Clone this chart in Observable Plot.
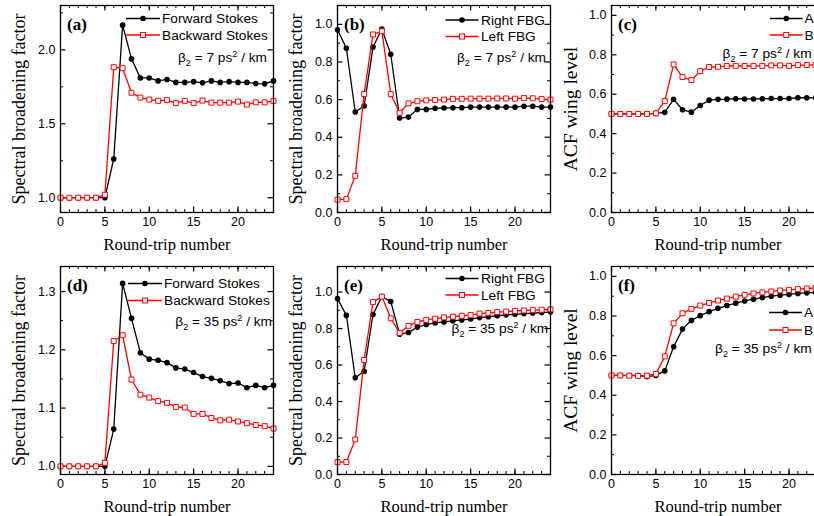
<!DOCTYPE html>
<html>
<head>
<meta charset="utf-8">
<script src="https://cdn.jsdelivr.net/npm/d3@7"></script>
<script src="https://cdn.jsdelivr.net/npm/@observablehq/plot@0.6"></script>
<style>
  html, body { margin: 0; padding: 0; background: #fff; }
  #wrap { position: relative; width: 814px; height: 516px; overflow: hidden; background: #fff; }
  #wrap svg { position: absolute; overflow: visible; }
</style>
</head>
<body>
<div id="wrap"></div>
<script>
// ---------- data ----------
const rounds = [0,1,2,3,4,5,6,7,8,9,10,11,12,13,14,15,16,17,18,19,20,21,22,23,24];
const xMajorTicks = [0, 5, 10, 15, 20];

// (a) beta2 = 7 ps^2/km, spectral broadening factor
const aForward  = [1.0,1.0,1.0,1.0,1.0,1.0,1.262,2.167,1.939,1.81,1.81,1.79,1.80,1.78,1.78,1.785,1.777,1.79,1.78,1.785,1.78,1.78,1.772,1.77,1.79];
const aBackward = [1.0,1.0,1.0,1.0,1.0,1.02,1.883,1.876,1.71,1.677,1.664,1.655,1.66,1.64,1.655,1.64,1.657,1.643,1.643,1.643,1.65,1.63,1.645,1.645,1.655];
// (b)
const bRight = [0.971,0.873,0.534,0.566,0.879,0.975,0.841,0.502,0.507,0.548,0.548,0.554,0.555,0.557,0.557,0.56,0.56,0.56,0.56,0.56,0.56,0.565,0.565,0.56,0.56];
const bLeft  = [0.068,0.071,0.195,0.63,0.946,0.963,0.629,0.53,0.58,0.591,0.596,0.598,0.6,0.604,0.604,0.605,0.605,0.605,0.606,0.606,0.605,0.608,0.607,0.603,0.6];
// (c) ACF wing level
const cA = [0.5,0.5,0.5,0.5,0.5,0.503,0.508,0.574,0.521,0.509,0.543,0.57,0.574,0.575,0.577,0.576,0.576,0.577,0.578,0.578,0.578,0.582,0.582,0.582,0.584];
const cB = [0.5,0.5,0.5,0.5,0.5,0.503,0.565,0.751,0.687,0.672,0.717,0.738,0.739,0.743,0.744,0.743,0.743,0.744,0.746,0.746,0.744,0.748,0.748,0.749,0.751];
// (d) beta2 = 35 ps^2/km
const dForward  = [1.0,1.0,1.0,1.0,1.0,1.0,1.064,1.314,1.254,1.195,1.184,1.182,1.178,1.169,1.167,1.161,1.154,1.151,1.147,1.142,1.143,1.135,1.139,1.135,1.139];
const dBackward = [1.0,1.0,1.0,1.0,1.0,1.006,1.215,1.225,1.149,1.123,1.118,1.112,1.109,1.102,1.101,1.09,1.09,1.083,1.079,1.08,1.077,1.074,1.071,1.069,1.065];
// (e)
const eRight = [0.964,0.872,0.53,0.566,0.877,0.975,0.948,0.769,0.778,0.808,0.822,0.831,0.836,0.842,0.847,0.852,0.86,0.865,0.87,0.875,0.878,0.882,0.885,0.888,0.89];
const eLeft  = [0.068,0.068,0.192,0.628,0.945,0.975,0.856,0.776,0.815,0.836,0.847,0.854,0.861,0.865,0.87,0.874,0.882,0.886,0.89,0.893,0.896,0.899,0.901,0.903,0.905];
// (f)
const fA = [0.5,0.5,0.5,0.5,0.494,0.5,0.523,0.645,0.734,0.778,0.802,0.822,0.839,0.853,0.865,0.876,0.885,0.893,0.9,0.905,0.909,0.914,0.917,0.919,0.922];
const fB = [0.5,0.5,0.499,0.498,0.499,0.508,0.596,0.763,0.814,0.836,0.853,0.866,0.878,0.888,0.898,0.907,0.914,0.919,0.924,0.929,0.932,0.936,0.939,0.941,0.942];

const sfTicks  = [1.0, 1.5, 2.0];
const sfMinor  = [1.25, 1.75, 2.25];
const fbgTicks = [0, 0.2, 0.4, 0.6, 0.8, 1.0];
const fbgMinor = [0.1, 0.3, 0.5, 0.7, 0.9];
const acfTicks = [0, 0.2, 0.4, 0.6, 0.8, 1.0];
const acfMinor = [0.1, 0.3, 0.5, 0.7, 0.9];
const sf35Ticks = [1.0, 1.1, 1.2, 1.3];
const sf35Minor = [1.05, 1.15, 1.25];

const names = {
  stokes: ["Forward Stokes", "Backward Stokes"],
  fbg: ["Right FBG", "Left FBG"],
  acf: ["A", "B"]
};

// ---------- drawing ----------
const SANS = "'Liberation Sans', Arial, sans-serif";
const SERIF = "'Liberation Serif', 'Times New Roman', serif";
const wrap = document.getElementById("wrap");

function toRows(ys) { return rounds.map((r, i) => ({x: r, y: ys[i]})); }

function panel(p) {
  const fw = p.width - p.ml - p.mr;
  const fh = p.height - p.mt - p.mb;
  const xMinor = rounds;
  const black = toRows(p.s1), red = toRows(p.s2);
  const svg = Plot.plot({
    width: p.width, height: p.height,
    marginLeft: p.ml, marginRight: p.mr, marginTop: p.mt, marginBottom: p.mb,
    x: {domain: [0, 24]},
    y: {domain: p.yDomain},
    style: {background: "transparent", fontFamily: SANS, fontSize: "12.5px", color: "black", overflow: "visible"},
    marks: [
      // inward minor / major ticks on all four sides
      Plot.tickX(xMinor, {x: d => d, insetTop: fh - 3, stroke: "black", strokeWidth: 1}),
      Plot.tickX(xMinor, {x: d => d, insetBottom: fh - 3, stroke: "black", strokeWidth: 1}),
      Plot.tickX(xMajorTicks, {x: d => d, insetTop: fh - 5.5, stroke: "black", strokeWidth: 1.2}),
      Plot.tickX(xMajorTicks, {x: d => d, insetBottom: fh - 5.5, stroke: "black", strokeWidth: 1.2}),
      Plot.tickY(p.yMinor, {y: d => d, insetRight: fw - 3, stroke: "black", strokeWidth: 1}),
      Plot.tickY(p.yMinor, {y: d => d, insetLeft: fw - 3, stroke: "black", strokeWidth: 1}),
      Plot.tickY(p.yTicks, {y: d => d, insetRight: fw - 5.5, stroke: "black", strokeWidth: 1.2}),
      Plot.tickY(p.yTicks, {y: d => d, insetLeft: fw - 5.5, stroke: "black", strokeWidth: 1.2}),
      Plot.axisX({ticks: xMajorTicks, tickSize: 0, tickPadding: 5, tickFormat: d => String(d), label: null, fontSize: 12.5, fill: "black"}),
      Plot.axisY({ticks: p.yTicks, tickSize: 0, tickPadding: 5, tickFormat: d3.format(".1f"), label: null, fontSize: 12.5, fill: "black"}),
      Plot.text(["Round-trip number"], {frameAnchor: "bottom", dy: 32, text: d => d, fontFamily: SERIF, fontSize: 16.5, fill: "black", textAnchor: "middle", lineAnchor: "middle"}),
      Plot.text([p.ylabel], {frameAnchor: "left", dx: -41, rotate: -90, text: d => d, fontFamily: SERIF, fontSize: p.ylabelSize, fill: "black", textAnchor: "middle", lineAnchor: "middle"}),
      Plot.line(black, {x: "x", y: "y", stroke: "black", strokeWidth: 1.3}),
      Plot.dot(black, {x: "x", y: "y", r: 2.8, fill: "black", stroke: "none"}),
      Plot.line(red, {x: "x", y: "y", stroke: "#ff0000", strokeWidth: 1.3}),
      Plot.dot(red, {x: "x", y: "y", r: 2.8, symbol: "square", fill: "white", stroke: "#ff0000", strokeWidth: 1}),
      Plot.text([p.tag], {frameAnchor: "top-left", dx: 6.5, dy: 19.5, text: d => d, fontFamily: SERIF, fontWeight: "bold", fontSize: 17, fill: "black", textAnchor: "start", lineAnchor: "middle"}),
      Plot.frame({stroke: "black", strokeWidth: 1.3})
    ]
  });
  svg.style.left = p.left + "px";
  svg.style.top = p.top + "px";
  wrap.appendChild(svg);

  // legend (page coordinates converted to svg coordinates)
  const g = d3.select(svg).append("g")
    .attr("font-family", SANS).attr("font-size", "13.7px").attr("text-anchor", "start");
  const L = p.legend;
  const rows = [
    {y: L.y1, color: "black", sym: "circle", label: p.names[0]},
    {y: L.y2, color: "#ff0000", sym: "square", label: p.names[1]}
  ];
  rows.forEach(r => {
    const y = r.y - p.top;
    g.append("line").attr("x1", L.lx1 - p.left).attr("x2", L.lx2 - p.left).attr("y1", y).attr("y2", y)
      .attr("stroke", r.color).attr("stroke-width", 1.3);
    const mx = (L.lx1 + L.lx2) / 2 - p.left;
    if (r.sym === "circle") {
      g.append("circle").attr("cx", mx).attr("cy", y).attr("r", 2.8).attr("fill", "black");
    } else {
      g.append("rect").attr("x", mx - 2.5).attr("y", y - 2.5).attr("width", 5).attr("height", 5)
        .attr("fill", "white").attr("stroke", "#ff0000").attr("stroke-width", 1);
    }
    g.append("text").attr("x", L.tx - p.left).attr("y", y).attr("dy", "0.35em")
      .attr("text-anchor", "start").attr("fill", "black").text(r.label);
  });
  const t = g.append("text").attr("x", L.bx - p.left).attr("y", L.by - p.top).attr("dy", "0.35em")
    .attr("text-anchor", L.banchor).attr("fill", "black");
  t.append("tspan").text("β");
  t.append("tspan").attr("font-size", "9px").attr("dy", 4).text("2");
  t.append("tspan").attr("dy", -4).text(" = " + p.beta + " ps");
  t.append("tspan").attr("font-size", "9px").attr("dy", -5).text("2");
  t.append("tspan").attr("dy", 5).text(" / km");
}

const top1 = {top: 0, height: 258, mt: 5, mb: 46};
const top2 = {top: 258, height: 258, mt: 8, mb: 42};
const col1 = {left: 0, width: 277, ml: 60, mr: 4};
const col2 = {left: 277, width: 277, ml: 60, mr: 4};
const col3 = {left: 550, width: 280, ml: 61, mr: 6};

panel({...col1, ...top1, s1: aForward, s2: aBackward, yDomain: [0.9, 2.3], yTicks: sfTicks, yMinor: sfMinor,
  ylabel: "Spectral broadening factor", ylabelSize: 18, tag: "(a)", names: names.stokes, beta: "7",
  legend: {y1: 18.5, y2: 35, lx1: 126, lx2: 160, tx: 162, bx: 267, by: 57, banchor: "end"}});
panel({...col2, ...top1, s1: bRight, s2: bLeft, yDomain: [0, 1.1], yTicks: fbgTicks, yMinor: fbgMinor,
  ylabel: "Spectral broadening factor", ylabelSize: 18, tag: "(b)", names: names.fbg, beta: "7",
  legend: {y1: 20, y2: 36.5, lx1: 445.5, lx2: 478.5, tx: 481, bx: 546, by: 57, banchor: "end"}});
panel({...col3, ...top1, s1: cA, s2: cB, yDomain: [0, 1.05], yTicks: acfTicks, yMinor: acfMinor,
  ylabel: "ACF wing level", ylabelSize: 19.5, tag: "(c)", names: names.acf, beta: "7",
  legend: {y1: 18.5, y2: 35, lx1: 770, lx2: 802.5, tx: 804.5, bx: 722.5, by: 53.5, banchor: "start"}});
panel({...col1, ...top2, s1: dForward, s2: dBackward, yDomain: [0.986, 1.343], yTicks: sf35Ticks, yMinor: sf35Minor,
  ylabel: "Spectral broadening factor", ylabelSize: 18, tag: "(d)", names: names.stokes, beta: "35",
  legend: {y1: 283.5, y2: 300.5, lx1: 128, lx2: 162, tx: 164, bx: 272, by: 321.5, banchor: "end"}});
panel({...col2, ...top2, s1: eRight, s2: eLeft, yDomain: [0, 1.14], yTicks: fbgTicks, yMinor: fbgMinor,
  ylabel: "Spectral broadening factor", ylabelSize: 18, tag: "(e)", names: names.fbg, beta: "35",
  legend: {y1: 278.5, y2: 295, lx1: 445.5, lx2: 478.5, tx: 481, bx: 451.5, by: 328.5, banchor: "start"}});
panel({...col3, ...top2, s1: fA, s2: fB, yDomain: [0, 1.05], yTicks: acfTicks, yMinor: acfMinor,
  ylabel: "ACF wing level", ylabelSize: 19.5, tag: "(f)", names: names.acf, beta: "35",
  legend: {y1: 312.5, y2: 330, lx1: 769, lx2: 802, tx: 804, bx: 715, by: 348.5, banchor: "start"}});
</script>
</body>
</html>
